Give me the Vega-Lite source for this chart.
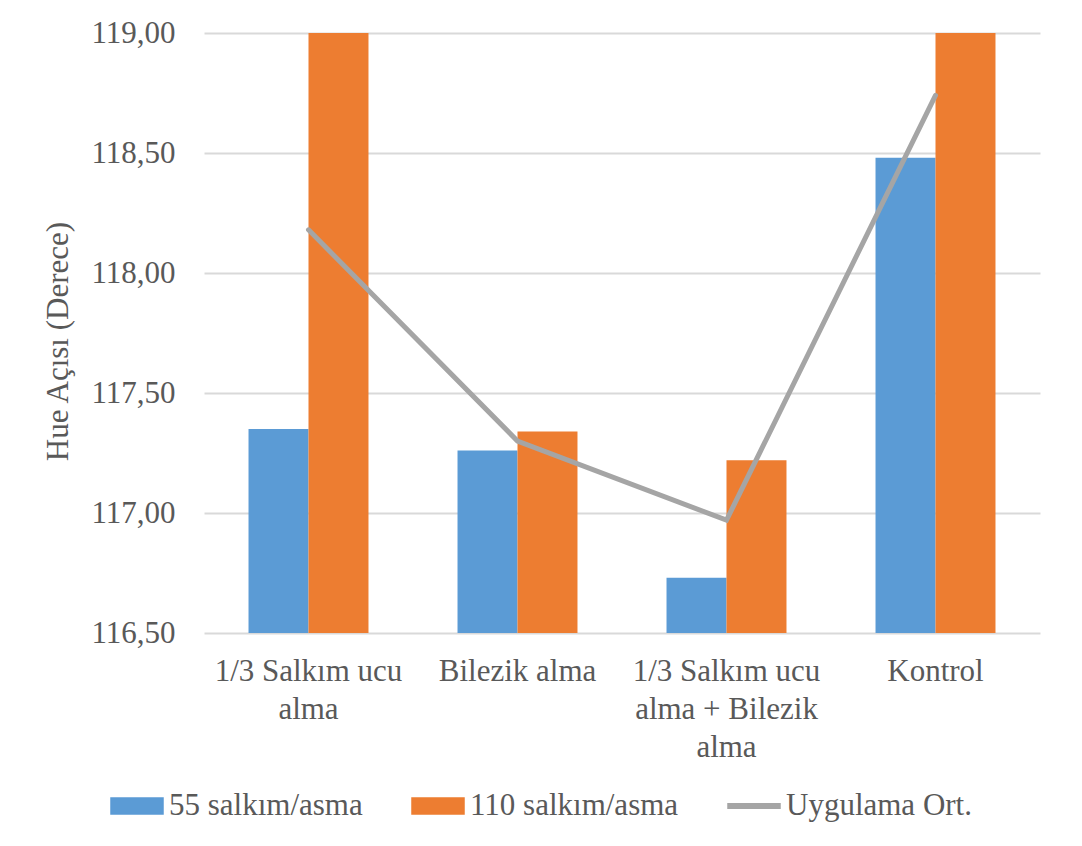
{
  "$schema": "https://vega.github.io/schema/vega-lite/v6.json",
  "autosize": "none",
  "width": 836,
  "height": 600,
  "padding": {"left": 204, "top": 33, "right": 42, "bottom": 213},
  "background": "#ffffff",
  "config": {
    "view": {"stroke": null},
    "font": "'Liberation Serif', 'DejaVu Serif', serif",
    "axis": {
      "labelFont": "'Liberation Serif', 'DejaVu Serif', serif",
      "titleFont": "'Liberation Serif', 'DejaVu Serif', serif",
      "labelColor": "#595959",
      "titleColor": "#595959",
      "labelFontSize": 31,
      "titleFontSize": 31,
      "titleFontWeight": "normal",
      "ticks": false,
      "domain": false
    },
    "legend": {
      "labelFont": "'Liberation Serif', 'DejaVu Serif', serif",
      "labelColor": "#595959",
      "labelFontSize": 31
    }
  },
  "datasets": {
    "cubuklar": [
      {"kategori": "1/3 Salkım ucu alma", "seri": "55 salkım/asma", "deger": 117.35},
      {"kategori": "1/3 Salkım ucu alma", "seri": "110 salkım/asma", "deger": 119.01},
      {"kategori": "Bilezik alma", "seri": "55 salkım/asma", "deger": 117.26},
      {"kategori": "Bilezik alma", "seri": "110 salkım/asma", "deger": 117.34},
      {"kategori": "1/3 Salkım ucu alma + Bilezik alma", "seri": "55 salkım/asma", "deger": 116.73},
      {"kategori": "1/3 Salkım ucu alma + Bilezik alma", "seri": "110 salkım/asma", "deger": 117.22},
      {"kategori": "Kontrol", "seri": "55 salkım/asma", "deger": 118.48},
      {"kategori": "Kontrol", "seri": "110 salkım/asma", "deger": 119.0}
    ],
    "ortalama": [
      {"kategori": "1/3 Salkım ucu alma", "deger": 118.18},
      {"kategori": "Bilezik alma", "deger": 117.30},
      {"kategori": "1/3 Salkım ucu alma + Bilezik alma", "deger": 116.97},
      {"kategori": "Kontrol", "deger": 118.74}
    ]
  },
  "encoding": {
    "x": {
      "field": "kategori",
      "type": "nominal",
      "sort": ["1/3 Salkım ucu alma", "Bilezik alma", "1/3 Salkım ucu alma + Bilezik alma", "Kontrol"],
      "scale": {"paddingInner": 0.426, "paddingOuter": 0.213},
      "axis": {
        "title": null,
        "labelAngle": 0,
        "labelAlign": "center",
        "labelBaseline": "top",
        "labelPadding": 23,
        "labelLineHeight": 38,
        "labelLimit": 400,
        "labelExpr": "datum.value == '1/3 Salkım ucu alma' ? ['1/3 Salkım ucu', 'alma'] : datum.value == '1/3 Salkım ucu alma + Bilezik alma' ? ['1/3 Salkım ucu', 'alma + Bilezik', 'alma'] : datum.value"
      }
    },
    "y": {
      "field": "deger",
      "type": "quantitative",
      "scale": {"domain": [116.5, 119], "nice": false, "zero": false},
      "axis": {
        "title": "Hue Açısı (Derece)",
        "titleX": -137,
        "titleY": 308,
        "titleAngle": -90,
        "titleAlign": "center",
        "titleBaseline": "alphabetic",
        "values": [116.5, 117, 117.5, 118, 118.5, 119],
        "labelExpr": "replace(format(datum.value, '.2f'), '.', ',')",
        "labelPadding": 29,
        "grid": true,
        "gridColor": "#D9D9D9",
        "gridWidth": 2
      }
    }
  },
  "layer": [
    {
      "data": {"name": "cubuklar"},
      "mark": {"type": "bar", "clip": true},
      "encoding": {
        "xOffset": {
          "field": "seri",
          "type": "nominal",
          "sort": ["55 salkım/asma", "110 salkım/asma"],
          "scale": {"paddingInner": 0, "paddingOuter": 0}
        },
        "color": {
          "field": "seri",
          "type": "nominal",
          "scale": {
            "domain": ["55 salkım/asma", "110 salkım/asma", "Uygulama Ort."],
            "range": ["#5B9BD5", "#ED7D31", "#A5A5A5"]
          },
          "legend": {
            "title": null,
            "orient": "none",
            "direction": "horizontal",
            "legendX": -94,
            "legendY": 746,
            "padding": 0,
            "symbolSize": 2704,
            "symbolType": "M-1,-0.31H1V0.31H-1Z",
            "labelOffset": 5,
            "columnPadding": 46,
            "labelLimit": 400,
            "encode": {
              "symbols": {
                "update": {
                  "shape": {"signal": "datum.value === 'Uygulama Ort.' ? 'M-1,-0.09H1V0.09H-1Z' : 'M-1,-0.31H1V0.31H-1Z'"},
                  "fill": {"signal": "scale('color', datum.value)"},
                  "stroke": {"value": "transparent"},
                  "opacity": {"value": 1},
                  "fillOpacity": {"value": 1}
                }
              }
            }
          }
        }
      }
    },
    {
      "data": {"name": "ortalama"},
      "mark": {"type": "line", "strokeWidth": 5, "strokeCap": "round", "strokeJoin": "miter"},
      "encoding": {
        "color": {"datum": "Uygulama Ort."}
      }
    }
  ]
}
